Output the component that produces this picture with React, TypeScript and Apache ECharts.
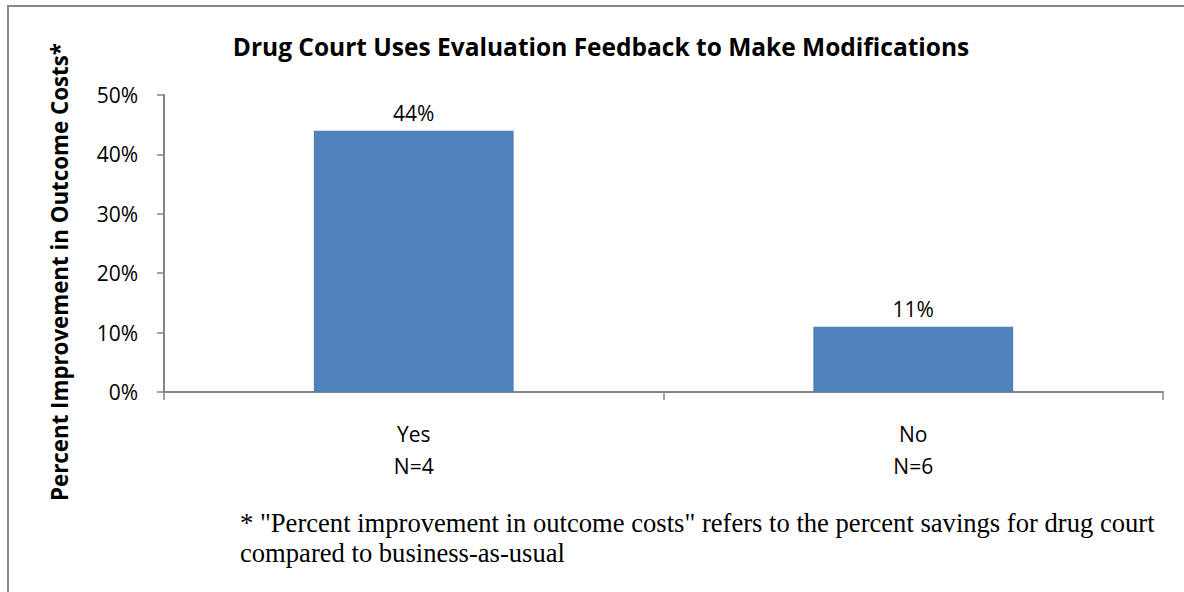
import React, { useEffect, useRef } from "react";
import * as echarts from "echarts";

const titleText = "Drug Court Uses Evaluation Feedback to Make Modifications";
const yAxisName = "Percent Improvement in Outcome Costs*";
const categories = ["Yes", "No"];
const sampleSizes = ["N=4", "N=6"];
const values = [44, 11];
const footnoteLines = [
  '* "Percent improvement in outcome costs" refers to the percent savings for drug court',
  "compared to business-as-usual",
];

export default function App() {
  const ref = useRef<HTMLDivElement>(null);
  useEffect(() => {
    document.body.style.margin = "0";
    const chart = echarts.init(ref.current!, null, { renderer: "svg" });
    const sans = "Open Sans";
    chart.setOption({
      animation: false,
      backgroundColor: "#ffffff",
      title: {
        text: titleText,
        left: 596,
        top: 29,
        textAlign: "center",
        textStyle: { fontFamily: sans, fontWeight: "bold", fontSize: 24.5, color: "#000" },
      },
      grid: { left: 164, right: 21, top: 95, bottom: 200, containLabel: false },
      xAxis: {
        type: "category",
        data: categories,
        axisLine: { lineStyle: { color: "#868686", width: 2 } },
        axisTick: { show: true, length: 8, lineStyle: { color: "#868686", width: 1.5 } },
        axisLabel: {
          margin: 26,
          fontFamily: sans,
          fontSize: 21,
          color: "#000",
          lineHeight: 32,
          formatter: (v: string, i: number) => `${v}\n${sampleSizes[i]}`,
        },
      },
      yAxis: {
        type: "value",
        min: 0,
        max: 50,
        interval: 10,
        splitLine: { show: false },
        axisLine: { show: true, lineStyle: { color: "#868686", width: 2 } },
        axisTick: { show: true, length: 7, lineStyle: { color: "#868686", width: 1.5 } },
        axisLabel: {
          margin: 26,
          fontFamily: sans,
          fontSize: 21,
          color: "#000",
          formatter: (v: number) => `${v}%`,
        },
      },
      series: [
        {
          type: "bar",
          data: values,
          barWidth: "40%",
          itemStyle: { color: "#4f81bd" },
          label: {
            show: true,
            position: "top",
            distance: 7,
            fontFamily: sans,
            fontSize: 21,
            color: "#000",
            formatter: (p: any) => `${p.value}%`,
          },
        },
      ],
      graphic: [
        {
          type: "rect",
          shape: { x: 8, y: 6, width: 1300, height: 700 },
          style: { fill: "none", stroke: "#888888", lineWidth: 2 },
          silent: true,
        },
        {
          type: "text",
          x: 59,
          y: 272,
          rotation: Math.PI / 2,
          style: {
            text: yAxisName,
            fontFamily: sans,
            fontWeight: "bold",
            fontSize: 22.3,
            fill: "#000",
            align: "center",
            verticalAlign: "middle",
          },
        },
        {
          type: "text",
          x: 240,
          y: 523,
          style: {
            text: footnoteLines[0],
            fontFamily: "Liberation Serif",
            fontSize: 26.6,
            fill: "#000",
            align: "left",
            verticalAlign: "middle",
          },
        },
        {
          type: "text",
          x: 240,
          y: 553,
          style: {
            text: footnoteLines[1],
            fontFamily: "Liberation Serif",
            fontSize: 26.6,
            fill: "#000",
            align: "left",
            verticalAlign: "middle",
          },
        },
      ],
    });
    return () => chart.dispose();
  }, []);
  return <div ref={ref} style={{ width: 1184, height: 592 }} />;
}
